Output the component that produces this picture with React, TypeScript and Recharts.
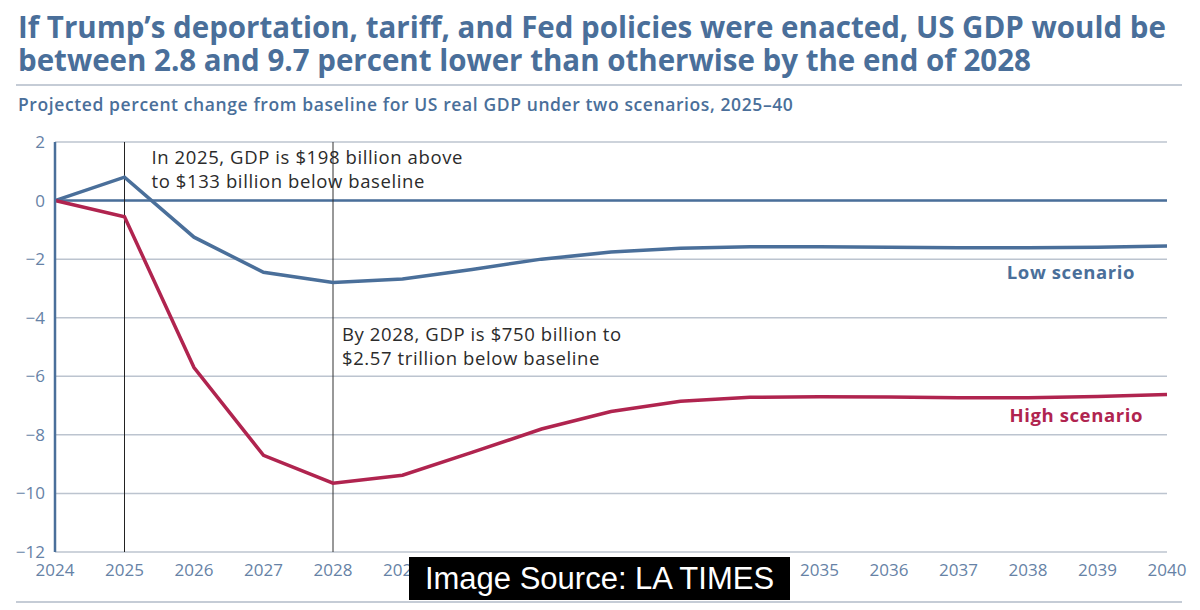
import React from "react"
import { CartesianGrid, Line, LineChart, ReferenceLine, XAxis, YAxis } from "recharts"

const years = [2024, 2025, 2026, 2027, 2028, 2029, 2030, 2031, 2032, 2033, 2034, 2035, 2036, 2037, 2038, 2039, 2040]
const lowScenario = [0, 0.8, -1.25, -2.45, -2.8, -2.68, -2.35, -2.0, -1.76, -1.63, -1.58, -1.58, -1.59, -1.61, -1.61, -1.59, -1.55]
const highScenario = [0, -0.55, -5.7, -8.7, -9.65, -9.38, -8.6, -7.8, -7.2, -6.85, -6.72, -6.7, -6.71, -6.73, -6.73, -6.69, -6.62]
const yTicks = [-12, -10, -8, -6, -4, -2, 0, 2]

const title = [
  "If Trump\u2019s deportation, tariff, and Fed policies were enacted, US GDP would be",
  "between 2.8 and 9.7 percent lower than otherwise by the end of 2028",
]
const subtitle = "Projected percent change from baseline for US real GDP under two scenarios, 2025\u201340"
const note2025 = ["In 2025, GDP is $198 billion above", "to $133 billion below baseline"]
const note2028 = ["By 2028, GDP is $750 billion to", "$2.57 trillion below baseline"]

const BLUE = "#4a6f9a"
const RED = "#b0244f"
const GRID = "#bcc4cf"
const TICK = "#6682a6"
const FONT = "'Open Sans', sans-serif"

const data = years.map((year, i) => ({ year, low: lowScenario[i], high: highScenario[i] }))

function fmtTick(v: number) {
  return v < 0 ? `\u2212${Math.abs(v)}` : `${v}`
}

function NoteLabel(lines: string[], dx: number, dy: number) {
  return (props: any) => {
    const { x, y } = props.viewBox
    return (
      <text x={x + dx} y={y + dy} fill="#2b2b2b" fontSize={18.5} letterSpacing={0.6} fontFamily={FONT}>
        {lines.map((line, i) => (
          <tspan key={i} x={x + dx} dy={i === 0 ? 0 : 24}>
            {line}
          </tspan>
        ))}
      </text>
    )
  }
}

function endLabel(text: string, color: string, dx: number, dy: number) {
  return (props: any) => {
    if (props.index !== years.length - 1) return null
    return (
      <text
        key="end"
        x={props.x + dx}
        y={props.y + dy}
        textAnchor="end"
        fill={color}
        fontSize={18.5}
        fontWeight={700}
        letterSpacing={0.6}
        fontFamily={FONT}
      >
        {text}
      </text>
    )
  }
}

export default function App() {
  return (
    <div style={{ position: "absolute", left: 0, top: 0, width: 1200, height: 610, background: "#fff", fontFamily: FONT }}>
      <div style={{ position: "absolute", left: 18, top: 10, color: BLUE, fontWeight: 700, fontSize: 29.5, lineHeight: "33px", whiteSpace: "nowrap" }}>
        {title.map((t) => (
          <div key={t}>{t}</div>
        ))}
      </div>
      <div style={{ position: "absolute", left: 16, top: 84, width: 1166, height: 2, background: "#c5ccd6" }} />
      <div style={{ position: "absolute", left: 18, top: 92, color: BLUE, fontWeight: 600, fontSize: 17.5, letterSpacing: 0.6, whiteSpace: "nowrap" }}>
        {subtitle}
      </div>
      <div style={{ position: "absolute", left: 0, top: 130 }}>
        <LineChart width={1200} height={470} data={data} margin={{ top: 12, right: 33, bottom: 18, left: 0 }}>
          <CartesianGrid horizontal vertical={false} stroke={GRID} strokeWidth={1.5} />
          <XAxis
            dataKey="year"
            type="number"
            domain={[2024, 2040]}
            ticks={years}
            height={30}
            axisLine={false}
            tickLine={false}
            tickMargin={6}
            tick={{ fill: TICK, fontSize: 17, fontFamily: FONT }}
          />
          <YAxis
            domain={[-12, 2]}
            ticks={yTicks}
            width={55}
            axisLine={{ stroke: BLUE, strokeWidth: 2.5 }}
            tickLine={false}
            tickMargin={4}
            tickFormatter={fmtTick}
            tick={{ fill: TICK, fontSize: 17, fontFamily: FONT }}
            interval={0}
          />
          <ReferenceLine y={0} stroke={BLUE} strokeWidth={2.5} />
          <ReferenceLine x={2025} stroke="#222" strokeWidth={1} label={NoteLabel(note2025, 27, 22)} />
          <ReferenceLine x={2028} stroke="#333" strokeWidth={1} label={NoteLabel(note2028, 9, 199)} />
          <Line
            dataKey="low"
            stroke={BLUE}
            strokeWidth={3.5}
            dot={false}
            isAnimationActive={false}
            label={endLabel("Low scenario", BLUE, -32, 33)}
          />
          <Line
            dataKey="high"
            stroke={RED}
            strokeWidth={3.5}
            dot={false}
            isAnimationActive={false}
            label={endLabel("High scenario", RED, -24, 28)}
          />
        </LineChart>
      </div>
      <div style={{ position: "absolute", left: 16, top: 601, width: 1166, height: 2, background: "#c5ccd6" }} />
      <div
        style={{
          position: "absolute",
          left: 409,
          top: 557,
          width: 381,
          height: 43,
          background: "#000",
          color: "#fff",
          fontFamily: "'Liberation Sans', Arial, sans-serif",
          fontSize: 31,
          lineHeight: "43px",
          textAlign: "center",
        }}
      >
        Image Source: LA TIMES
      </div>
    </div>
  )
}
